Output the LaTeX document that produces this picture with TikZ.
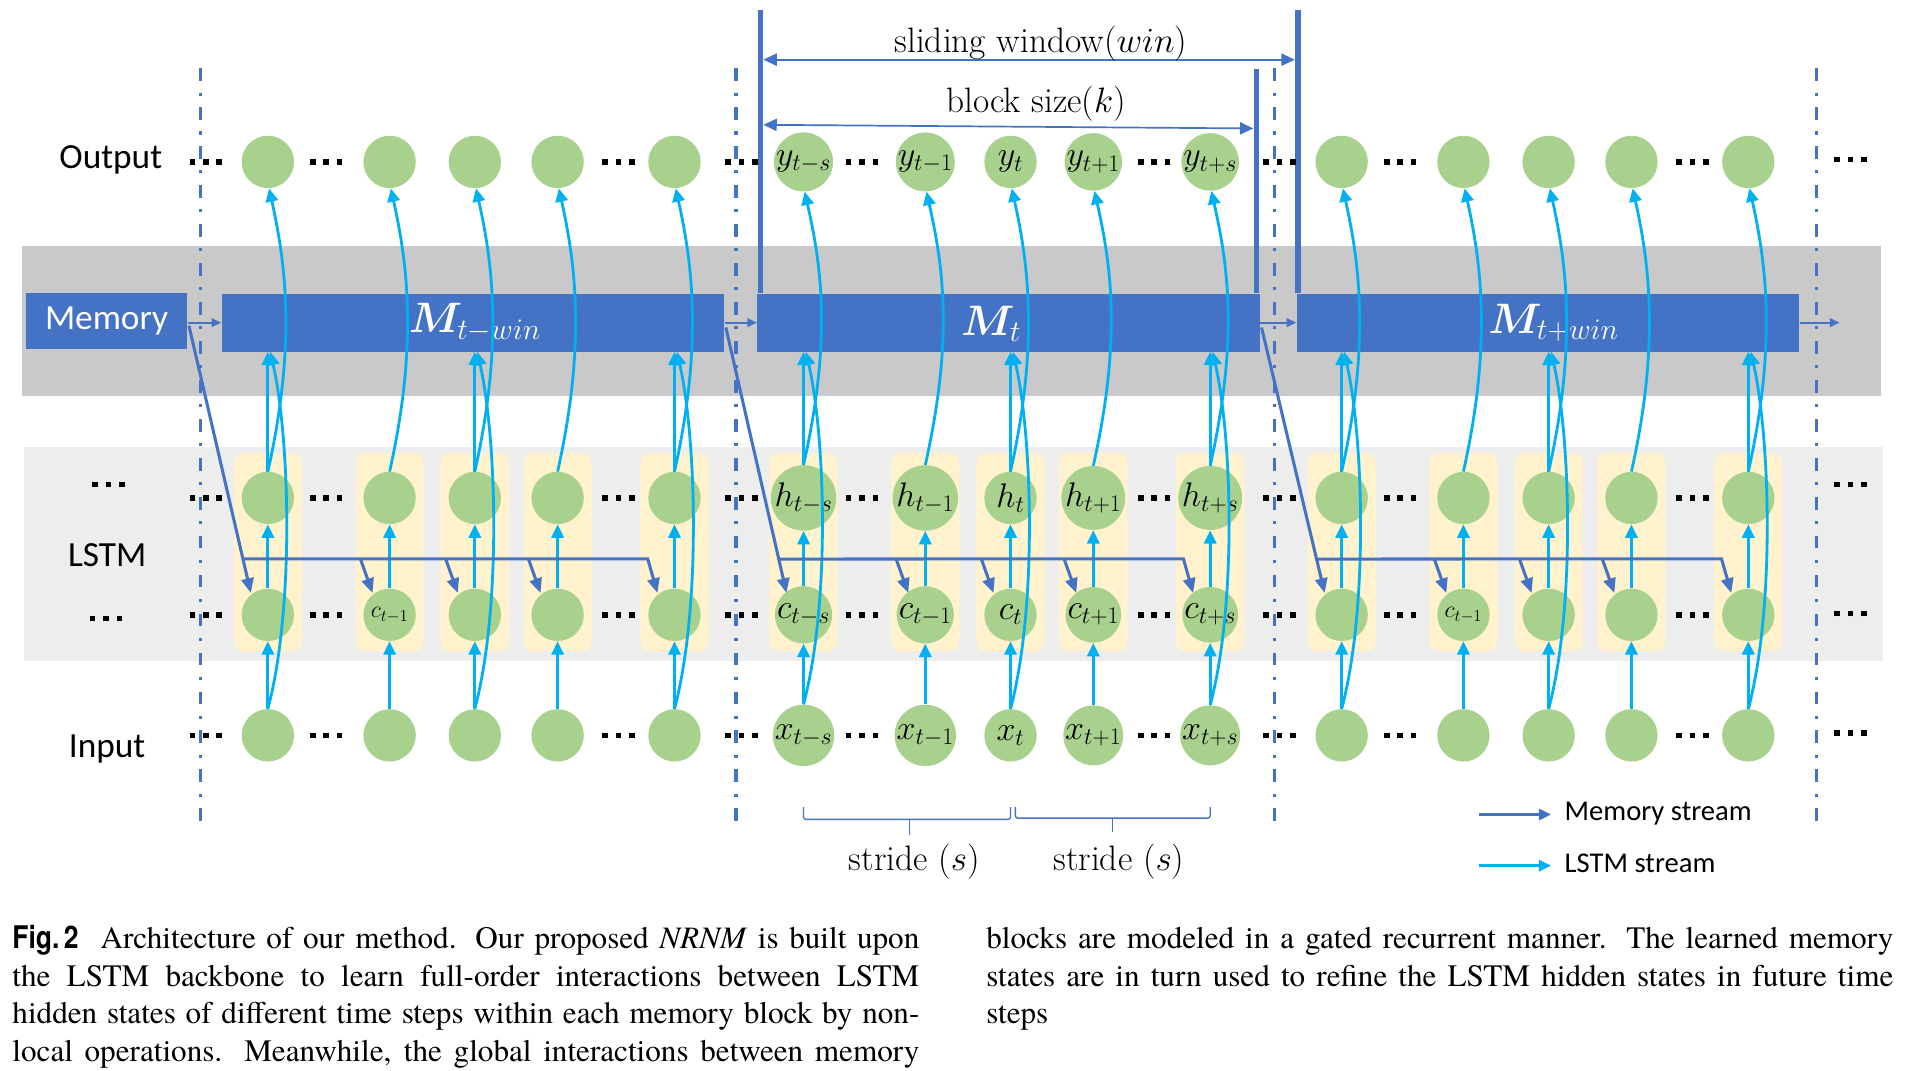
\RequirePackage{fix-cm}
\documentclass[tikz,border=0pt]{standalone}
\usepackage{bm}
\usepackage{graphicx}
\usepackage{fontspec}
\usetikzlibrary{arrows.meta,calc}
\newfontfamily\carl{Carlito}
\newfontfamily\figsf{TeX Gyre Heros}
\IfFontExistsTF{texgyretermes-regular.otf}
  {\newfontfamily\capfont{texgyretermes}[Extension=.otf,UprightFont=*-regular,ItalicFont=*-italic,BoldFont=*-bold,BoldItalicFont=*-bolditalic]}
  {\let\capfont\rmfamily}

\definecolor{memblue}{HTML}{4472C4}
\definecolor{lstmcyan}{HTML}{00B0F0}
\definecolor{nodegreen}{HTML}{A9D18E}
\definecolor{cellyellow}{HTML}{FFF2CC}
\definecolor{bandgray}{HTML}{C9C9C9}
\definecolor{bandlight}{HTML}{EDEDED}

% three square dots
\newcommand{\tridots}{\rule{4.6pt}{4.6pt}\hspace{6.4pt}\rule{4.6pt}{4.6pt}\hspace{6.4pt}\rule{4.6pt}{4.6pt}}

% one justified caption line, squeezed if it is too long
\newsavebox{\capbox}
\newcommand{\capjust}[1]{\sbox{\capbox}{#1}\ifdim\wd\capbox>745pt\resizebox{745pt}{\height}{\usebox{\capbox}}\else\makebox[745pt][s]{#1}\fi}

\begin{document}
\begin{tikzpicture}[x=1pt,y=-1pt,
  neuron/.style={circle,fill=nodegreen,minimum size=43pt,inner sep=0pt,font=\fontsize{28}{32}\selectfont},
  cellbox/.style={fill=cellyellow,rounded corners=8pt},
  memblock/.style={fill=memblue,draw=none,inner sep=0pt,text=white},
  lstm/.style={draw=lstmcyan,line width=2.3pt,-{Triangle[length=11pt,width=10pt]}},
  memflow/.style={draw=memblue,line width=2.5pt,-{Triangle[length=12pt,width=10pt]}},
  memlink/.style={draw=memblue,line width=1.6pt,-{Triangle[length=8pt,width=7pt]}},
  blocksep/.style={draw=memblue,line width=2.6pt,dash pattern=on 10.5pt off 9.5pt on 2.5pt off 9.5pt},
  winline/.style={draw=memblue,line width=4.5pt},
  dimarrow/.style={draw=memblue,line width=1.4pt,{Triangle[length=11pt,width=10pt]}-{Triangle[length=11pt,width=10pt]}},
  rowlabel/.style={font=\carl\fontsize{29}{34}\selectfont},
  ellip/.style={inner sep=0pt},
  serifl/.style={font=\fontsize{29}{34}\selectfont},
  brace/.style={draw=memblue,line width=1.1pt,rounded corners=2pt},
  capline/.style={anchor=base west,inner sep=0pt,font=\capfont\fontsize{25.6}{31}\selectfont},
]
\useasboundingbox (0,0) rectangle (1568,879);
\fill[white] (0,0) rectangle (1568,879);

% bands
\fill[bandgray] (18,202) rectangle (1545,325);
\fill[bandlight] (20,367) rectangle (1547,543);

% cell backgrounds
\foreach \b in {220,660,1102}{
  \foreach \o in {0,100,170,238,334}{
    \fill[cellbox] (\b+\o-28,372) rectangle (\b+\o+28,535);
  }
}

% block separators
\foreach \sx in {165,604.5,1046.5,1492}{
  \draw[blocksep] (\sx,56) -- (\sx,680);
}

% units of the outer blocks
\foreach \b/\bi in {220/1,1102/3}{
  \foreach \o/\k in {0/1,100/2,170/3,238/4,334/5}{
    \node[neuron] (y\bi\k) at (\b+\o,133) {};
    \node[neuron] (h\bi\k) at (\b+\o,409) {};
    \node[neuron] (c\bi\k) at (\b+\o,505) {};
    \node[neuron] (x\bi\k) at (\b+\o,604) {};
  }
  \node[font=\fontsize{19.5}{23}\selectfont,inner sep=0pt] (cl\bi) at (c\bi2) {$c_{t-1}$};
}
% units of the current block
\foreach \o/\k/\s in {0/1/t-s,100/2/t-1,170/3/t,238/4/t+1,334/5/t+s}{
  \node[neuron] (y2\k) at (660+\o,133) {$y_{\s}$};
  \node[neuron] (h2\k) at (660+\o,409) {$h_{\s}$};
  \node[neuron] (c2\k) at (660+\o,505) {$c_{\s}$};
  \node[neuron] (x2\k) at (660+\o,604) {$x_{\s}$};
}

% memory blocks
\node[memblock,minimum width=133pt,minimum height=46pt,font=\carl\fontsize{29}{34}\selectfont] (mem) at (87.5,263.5) {Memory};
\node[memblock,minimum width=413pt,minimum height=47.5pt] (M1) at (388.5,265) {};
\node[memblock,minimum width=413pt,minimum height=47.5pt] (M2) at (828.5,265) {};
\node[memblock,minimum width=413pt,minimum height=47.5pt] (M3) at (1271.5,265) {};
\node[text=white,font=\fontsize{35}{40}\selectfont,inner sep=0pt] (lM1) at (390,265) {$\bm{M}_{t-win}$};
\node[text=white,font=\fontsize{35}{40}\selectfont,inner sep=0pt] (lM2) at (814,266) {$\bm{M}_{t}$};
\node[text=white,font=\fontsize{35}{40}\selectfont,inner sep=0pt] (lM3) at (1276,265) {$\bm{M}_{t+win}$};

% window and block size markers
\draw[winline] (624.5,8) -- (624.5,241);
\draw[winline] (1066,8) -- (1066,241);
\draw[winline] (1032,57) -- (1032,241);
\coordinate (wl) at (627,49);
\coordinate (wr) at (1063.5,49);
\coordinate (kl) at (627,102.5);
\coordinate (kr) at (1029.5,105.5);
\draw[dimarrow] (wl) -- (wr);
\draw[dimarrow] (kl) -- (kr);
\node[serifl] (wintext) at (855,36) {sliding window($win$)};
\node[serifl] (ktext) at (851,85) {block size($k$)};

% row labels
\node[rowlabel] (lout) at (91,131) {Output};
\node[rowlabel] (llstm) at (88,456) {LSTM};
\node[rowlabel] (lin) at (88,615) {Input};

% dots
\foreach \b in {220,660,1102}{
  \foreach \ry in {133,409,505,604}{
    \node[ellip] at (\b-51,\ry) {\tridots};
    \node[ellip] at (\b+48,\ry) {\tridots};
    \node[ellip] at (\b+288,\ry) {\tridots};
  }
}
\foreach \ry in {131,398,504,602}{
  \node[ellip] at (1520,\ry) {\tridots};
}
\node[ellip] (dl1) at (89,398) {\tridots};
\node[ellip] (dl2) at (87,508) {\tridots};

% LSTM stream
\foreach \bi in {1,2,3}{
  \foreach \k in {1,2,3,4,5}{
    \draw[lstm] (x\bi\k.north) -- (c\bi\k.south);
    \draw[lstm] (c\bi\k.north) -- (h\bi\k.south);
    \draw[lstm] (h\bi\k.north) .. controls +(24,-107) and +(13,59) .. ($(y\bi\k.south)+(1,0)$);
  }
  \foreach \k in {1,3,5}{
    \draw[lstm] (h\bi\k.north) -- (h\bi\k.north |- M\bi.south);
    \draw[lstm] (x\bi\k.north) .. controls +(22,-83) and +(16,71) .. ($(x\bi\k.north |- M\bi.south)+(2,0)$);
  }
}

% memory stream between blocks
\coordinate (memout) at (1511,265);
\draw[memlink] (mem.east |- M1.west) -- (M1.west);
\draw[memlink] (M1.east) -- (M2.west);
\draw[memlink] (M2.east) -- (M3.west);
\draw[memlink] (M3.east) -- (memout);

% memory stream into the cells
\foreach \src/\bi in {mem/1,M1/2,M2/3}{
  \coordinate (s\bi) at ($(\src.east)+(1,4)$);
  \coordinate (t\bi) at ($(c\bi1)+(-14,-18)$);
  \coordinate (j\bi) at ($(s\bi)!0.8724!(t\bi)$);
  \draw[memflow] (s\bi) -- (t\bi);
  \draw[memflow] (j\bi) -- ($(c\bi5)+(-22,-46)$) -- ($(c\bi5)+(-14,-18)$);
  \foreach \k in {2,3,4}{
    \draw[memflow] ($(c\bi\k)+(-24,-46)$) -- ($(c\bi\k)+(-14,-18)$);
  }
}

% strides
\draw[brace] (x21.south |- 0,663) -- (x21.south |- 0,673) -- (x23.south |- 0,673) -- (x23.south |- 0,663);
\draw[brace] (747,673) -- (747,686);
\draw[brace] ($(x23.south |- 0,663)+(4,0)$) -- ($(x23.south |- 0,672)+(4,0)$) -- (x25.south |- 0,672) -- (x25.south |- 0,663);
\draw[brace] (914,672) -- (914,683);
\node[serifl] (st1) at (751,708) {stride ($s$)};
\node[serifl] (st2) at (919,708) {stride ($s$)};

% legend
\coordinate (lg1a) at (1215,669);
\coordinate (lg1b) at (1274,669);
\coordinate (lg2a) at (1215,711);
\coordinate (lg2b) at (1274,711);
\draw[memflow,-{Triangle[length=10pt,width=9pt]}] (lg1a) -- (lg1b);
\draw[lstm,-{Triangle[length=10pt,width=9pt]}] (lg2a) -- (lg2b);
\node[anchor=west,inner sep=0pt,font=\carl\fontsize{23.5}{28}\selectfont] (lgt1) at (1285,668) {Memory stream};
\node[anchor=west,inner sep=0pt,font=\carl\fontsize{23.5}{28}\selectfont] (lgt2) at (1285,709) {LSTM stream};

% caption
\node[capline] (cap1) at (10,779) {\capjust{\mbox{\scalebox{0.85}[1]{\figsf\bfseries Fig.\,2}}\hspace{18pt}Architecture of our method. Our proposed \textit{NRNM} is built upon}};
\node[capline] (cap2) at (10,810) {\capjust{the LSTM backbone to learn full-order interactions between LSTM}};
\node[capline] (cap3) at (10,841) {\capjust{hidden states of different time steps within each memory block by non-}};
\node[capline] (cap4) at (10,872) {\capjust{local operations. Meanwhile, the global interactions between memory}};
\node[capline] (cap5) at (810,779) {\capjust{blocks are modeled in a gated recurrent manner. The learned memory}};
\node[capline] (cap6) at (810,810) {\capjust{states are in turn used to refine the LSTM hidden states in future time}};
\node[capline] (cap7) at (810,841) {steps};
\end{tikzpicture}
\end{document}
